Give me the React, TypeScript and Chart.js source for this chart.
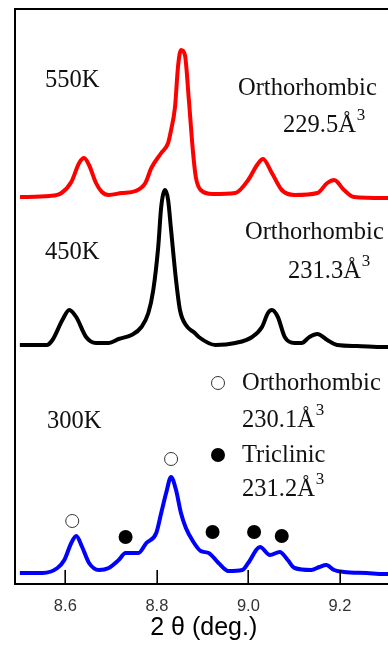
import React, { useEffect, useRef } from "react";
import { Chart, registerables } from "chart.js";

Chart.register(...registerables);

// 2θ (deg.) values and intensities (arbitrary units)
const x550 = [8.501, 8.5654, 8.5914, 8.613, 8.6302, 8.641, 8.6518, 8.667, 8.6799, 8.695, 8.7231, 8.7533, 8.7749, 8.7879, 8.8095, 8.8246, 8.8311, 8.8397, 8.8462, 8.8527, 8.8613, 8.87, 8.8786, 8.8851, 8.8959, 8.9218, 8.9715, 8.9996, 9.019, 9.032, 9.0514, 9.073, 9.1011, 9.1508, 9.1724, 9.1875, 9.2091, 9.2307, 9.2955, 9.3149];
const y550 = [387, 388, 391, 402, 421, 426, 419, 401, 392, 389, 391, 393, 401, 416, 431, 441, 454, 477, 517, 534, 529, 484, 434, 407, 394, 390, 391, 404, 419, 425, 411, 394, 389, 391, 401, 404, 394, 387, 386, 386];

const x450 = [8.5006, 8.559, 8.5719, 8.5935, 8.6086, 8.6238, 8.6454, 8.667, 8.695, 8.7166, 8.7447, 8.7663, 8.7814, 8.7922, 8.803, 8.8095, 8.8181, 8.8246, 8.8311, 8.8419, 8.8505, 8.8635, 8.8829, 8.8916, 8.9283, 8.9715, 9.0082, 9.0298, 9.0428, 9.0514, 9.0644, 9.0795, 9.1011, 9.1162, 9.1335, 9.1508, 9.1724, 9.194, 9.2371, 9.2955, 9.3149];
const y450 = [239, 239, 244, 264, 274, 267, 247, 241, 241, 245, 249, 257, 271, 294, 337, 377, 394, 384, 354, 304, 274, 259, 251, 247, 239, 241, 247, 257, 271, 274, 267, 247, 241, 241, 247, 250, 244, 239, 238, 237, 237];

const x300 = [8.5006, 8.5503, 8.5827, 8.5978, 8.613, 8.6238, 8.6367, 8.6518, 8.6734, 8.695, 8.7166, 8.7317, 8.7598, 8.7771, 8.7987, 8.8095, 8.8203, 8.8311, 8.8419, 8.8527, 8.8635, 8.8786, 8.8959, 8.9132, 8.9348, 8.9564, 8.9866, 8.9996, 9.0255, 9.0471, 9.0687, 9.086, 9.1011, 9.1378, 9.1551, 9.1702, 9.1875, 9.2091, 9.2587, 9.2955, 9.3149];
const y300 = [11, 11, 16, 24, 41, 48, 37, 21, 14, 16, 24, 31, 31, 41, 51, 71, 91, 107, 94, 71, 56, 43, 33, 31, 21, 13, 14, 21, 37, 29, 32, 24, 16, 14, 17, 19, 14, 12, 11, 10, 10];

// peak markers at 300K
const orthoX = [8.6151, 8.8311];
const orthoY = [63, 125];
const tricX = [8.7317, 8.9218, 9.0125, 9.073];
const tricY = [47, 52, 52, 48];

const xTicks = [8.6, 8.8, 9.0, 9.2];
const xTickLabels = ["8.6", "8.8", "9.0", "9.2"];

const toXY = (xs: number[], ys: number[]) => xs.map((x, i) => ({ x, y: ys[i] }));

const SERIF = "'Liberation Serif', 'Times New Roman', serif";
const SANS = "'Liberation Sans', Arial, sans-serif";

const framePlugin = {
  id: "frame",
  afterDatasetsDraw(chart: any) {
    const { ctx, chartArea } = chart;
    const { left, top, right, bottom } = chartArea;
    ctx.save();
    ctx.strokeStyle = "#000";
    ctx.lineWidth = 2;
    ctx.beginPath();
    ctx.moveTo(left, bottom);
    ctx.lineTo(left, top);
    ctx.lineTo(right, top);
    ctx.moveTo(left - 1, bottom);
    ctx.lineTo(right, bottom);
    ctx.stroke();
    // inward tick marks
    const xs = chart.scales.x;
    ctx.lineWidth = 1.6;
    ctx.beginPath();
    xs.ticks.forEach((t: any) => {
      const px = Math.round(xs.getPixelForValue(t.value)) + 0.2;
      ctx.moveTo(px, bottom);
      ctx.lineTo(px, bottom - 14);
    });
    ctx.stroke();
    ctx.restore();
  },
};

type Lbl = { t: string; x: number; y: number; sup?: boolean };
const labels: Lbl[] = [
  { t: "550K", x: 45, y: 87 },
  { t: "Orthorhombic", x: 238, y: 95 },
  { t: "229.5Å", x: 283, y: 132, sup: true },
  { t: "450K", x: 45, y: 259 },
  { t: "Orthorhombic", x: 245, y: 239 },
  { t: "231.3Å", x: 288, y: 278, sup: true },
  { t: "300K", x: 47, y: 428 },
  { t: "Orthorhombic", x: 242, y: 390 },
  { t: "230.1Å", x: 242, y: 427, sup: true },
  { t: "Triclinic", x: 242, y: 462 },
  { t: "231.2Å", x: 242, y: 496, sup: true },
];

const textPlugin = {
  id: "texts",
  afterDraw(chart: any) {
    const { ctx } = chart;
    ctx.save();
    ctx.fillStyle = "#111";
    ctx.textBaseline = "alphabetic";
    ctx.textAlign = "left";
    labels.forEach((l) => {
      ctx.font = `24.5px ${SERIF}`;
      ctx.fillText(l.t, l.x, l.y);
      if (l.sup) {
        const w = ctx.measureText(l.t).width;
        ctx.font = `17px ${SERIF}`;
        ctx.fillText("3", l.x + w + 1, l.y - 12);
      }
    });
    // legend symbols
    ctx.lineWidth = 1;
    ctx.strokeStyle = "#333";
    ctx.fillStyle = "#fff";
    ctx.beginPath();
    ctx.arc(218, 383, 6.5, 0, Math.PI * 2);
    ctx.fill();
    ctx.stroke();
    ctx.fillStyle = "#000";
    ctx.beginPath();
    ctx.arc(218, 455, 7, 0, Math.PI * 2);
    ctx.fill();
    ctx.restore();
  },
};

export default function App() {
  const ref = useRef<HTMLCanvasElement | null>(null);
  useEffect(() => {
    if (!ref.current) return;
    const chart = new Chart(ref.current, {
      type: "scatter",
      data: {
        datasets: [
          {
            label: "550K",
            data: toXY(x550, y550),
            showLine: true,
            borderColor: "#ff0000",
            borderWidth: 4,
            pointRadius: 0,
            cubicInterpolationMode: "monotone",
          },
          {
            label: "450K",
            data: toXY(x450, y450),
            showLine: true,
            borderColor: "#000000",
            borderWidth: 4,
            pointRadius: 0,
            cubicInterpolationMode: "monotone",
          },
          {
            label: "300K",
            data: toXY(x300, y300),
            showLine: true,
            borderColor: "#0000ff",
            borderWidth: 4,
            pointRadius: 0,
            cubicInterpolationMode: "monotone",
          },
          {
            label: "Orthorhombic",
            data: toXY(orthoX, orthoY),
            showLine: false,
            pointRadius: 6.5,
            pointBorderWidth: 1,
            pointBorderColor: "#333",
            pointBackgroundColor: "#fff",
          },
          {
            label: "Triclinic",
            data: toXY(tricX, tricY),
            showLine: false,
            pointRadius: 7,
            pointBorderWidth: 0,
            pointBackgroundColor: "#000",
          },
        ],
      } as any,
      options: {
        animation: false,
        responsive: true,
        maintainAspectRatio: false,
        layout: { padding: { left: 15, top: 9, right: 3, bottom: 0 } },
        plugins: { legend: { display: false }, tooltip: { enabled: false } },
        scales: {
          x: {
            type: "linear",
            min: 8.49,
            max: 9.315,
            afterBuildTicks: (s: any) => {
              s.ticks = xTicks.map((v) => ({ value: v }));
            },
            afterFit: (s: any) => {
              s.height = 62;
            },
            grid: { display: false, drawTicks: false },
            border: { display: false },
            ticks: {
              padding: 13,
              color: "#333",
              font: { family: SANS, size: 16.5, lineHeight: 1.2 },
              callback: (_v: any, i: number) => xTickLabels[i],
            },
            title: {
              display: true,
              text: "2 θ (deg.)",
              color: "#000",
              font: { family: SANS, size: 25, lineHeight: 1.0 },
              padding: { top: 1, bottom: 5 },
            },
          },
          y: {
            display: false,
            min: 0,
            max: 575,
          },
        },
      } as any,
      plugins: [framePlugin, textPlugin],
    });
    return () => chart.destroy();
  }, []);
  return (
    <div style={{ position: "fixed", left: 0, top: 0, width: 388, height: 646, overflow: "hidden", background: "#fff" }}>
      <div style={{ position: "absolute", left: 0, top: 0, width: 400, height: 646 }}>
        <canvas ref={ref} />
      </div>
    </div>
  );
}
